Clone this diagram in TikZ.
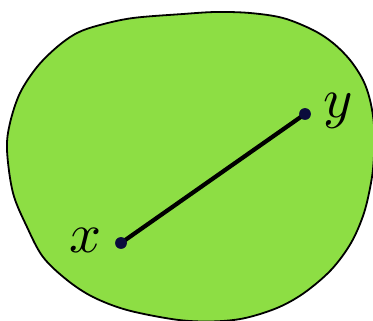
\documentclass[tikz,border=0pt]{standalone}
\begin{document}
\begin{tikzpicture}[x=1pt,y=-1pt,
  blob/.style={draw=black,line width=1.8pt,fill=blobgreen},
  dotnode/.style={circle,fill=dotblue,inner sep=0pt,minimum size=11.5pt},
  lbl/.style={inner sep=0pt,scale=5.6},
  seg/.style={line width=4.2pt,black}]
\definecolor{blobgreen}{RGB}{141,222,68}
\definecolor{dotblue}{RGB}{10,12,60}
\useasboundingbox (0,0) rectangle (373,321);
\begin{scope}
\clip (0,0) rectangle (373,321);
\draw[blob] plot[smooth cycle,tension=0.55] coordinates{
 (7,150) (10,123) (20,93) (37,67) (57,47) (77,33) (100,25) (133,18)
 (183,14) (216,12) (250,13) (283,18) (313,30) (333,43) (350,60) (363,80)
 (370,100) (374,125) (374,155) (371.5,180) (364,213) (351,243) (331,270)
 (304,293) (277,308) (243,318.5) (210,321.5) (175,319.5) (127,310) (93,297)
 (67,280) (43,257) (27,227) (13,193)};
\end{scope}
\node[dotnode] (x) at (121,243) {};
\node[dotnode] (y) at (305,114) {};
\draw[seg] (x.center) -- (y.center);
\node[dotnode] at (x) {};
\node[dotnode] at (y) {};
\node[lbl] (xl) at (86,240.5) {$x$};
\node[lbl] (yl) at (338,111) {$y$};
\end{tikzpicture}
\end{document}
